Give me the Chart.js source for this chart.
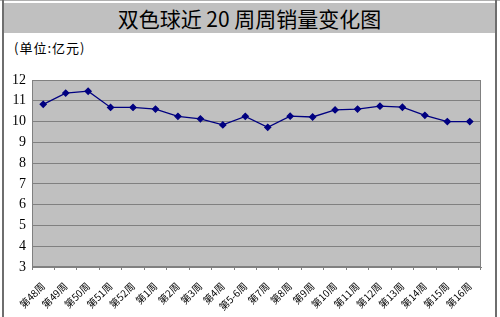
<!DOCTYPE html>
<html>
<head>
<meta charset="utf-8">
<script src="https://cdn.jsdelivr.net/npm/chart.js@4/dist/chart.umd.min.js"></script>
<style>
  body { margin: 0; background: #fff; }
  #wrap { position: relative; width: 500px; height: 317px; overflow: hidden; }
  #borderL { position: absolute; left: 2px; top: 0; width: 2px; height: 317px; background: #6e6e6e; }
  #borderR { position: absolute; left: 495px; top: 0; width: 2px; height: 317px; background: #6e6e6e; }
  #topLine { position: absolute; left: 0; top: 0; width: 500px; height: 1px; background: #b0b0b0; }
  #title {
    position: absolute; left: 4px; top: 3px; width: 491px; height: 30px;
    background: #c0c0c0; text-align: center; line-height: 30px;
    font-family: "Noto Sans CJK SC", sans-serif; font-size: 21px; color: #000;
  }
  #unit {
    position: absolute; left: 14px; top: 38px; letter-spacing: 1px;
    font-family: "Noto Sans CJK SC", sans-serif; font-size: 13px; color: #000;
  }
  #chart { position: absolute; left: 0; top: 0; }
</style>
</head>
<body>
<div id="wrap">
  <div id="topLine"></div>
  <div id="title">双色球近 20 周周销量变化图</div>
  <div id="unit">(单位:亿元)</div>
  <div id="borderL"></div>
  <div id="borderR"></div>
  <canvas id="chart" width="500" height="317"></canvas>
</div>
<script>
'use strict';

//data

var weeks = ['第48周', '第49周', '第50周', '第51周', '第52周', '第1周', '第2周', '第3周', '第4周', '第5-6周',
             '第7周', '第8周', '第9周', '第10周', '第11周', '第12周', '第13周', '第14周', '第15周', '第16周'];
var sales = [10.83, 11.37, 11.46, 10.68, 10.68, 10.6, 10.25, 10.13, 9.84, 10.25,
             9.72, 10.26, 10.22, 10.56, 10.6, 10.74, 10.69, 10.3, 10.0, 10.0];
var yTicks = [3, 4, 5, 6, 7, 8, 9, 10, 11, 12];

//colors

var lineColor = 'rgb(000,000,128)';
var plotBg = 'rgb(192,192,192)';
var gridColor = 'rgb(128,128,128)';

//plot background and frame
const plotBgPlugin = {
    id: 'plotBg',
    beforeDraw: function (chart) {
        var a = chart.chartArea;
        var ctx = chart.ctx;
        ctx.save();
        ctx.fillStyle = plotBg;
        ctx.fillRect(a.left, a.top, a.right - a.left, a.bottom - a.top);
        ctx.restore();
    },
    beforeDatasetsDraw: function (chart) {
        var a = chart.chartArea;
        var ctx = chart.ctx;
        ctx.save();
        ctx.strokeStyle = gridColor;
        ctx.lineWidth = 1;
        ctx.strokeRect(a.left + 0.5, a.top + 0.5, a.right - a.left - 1, a.bottom - a.top - 1);
        ctx.restore();
    }
};

new Chart(document.getElementById('chart'), {
    type: 'line',
    data: {
        labels: weeks,
        datasets: [{
            label: '周销量',
            data: sales,
            borderColor: lineColor,
            backgroundColor: lineColor,
            borderWidth: 1.3,
            pointStyle: 'rectRot',
            pointRadius: 3,
            tension: 0
        }]
    },
    options: {
        responsive: false,
        animation: false,
        layout: { padding: { left: 0, top: 80, right: 19, bottom: 0 } },
        plugins: {
            legend: { display: false },
            tooltip: { enabled: false }
        },
        scales: {
            x: {
                offset: true,
                grid: { drawOnChartArea: false, color: gridColor, tickLength: 3, offset: true },
                border: { color: gridColor, width: 1 },
                ticks: {
                    color: '#000',
                    maxRotation: 45,
                    minRotation: 45,
                    autoSkip: false,
                    padding: 10,
                    font: { family: 'Noto Sans CJK SC', size: 10 }
                },
                afterFit: function (scale) { scale.height = 50; }
            },
            y: {
                min: 3,
                max: 12,
                afterBuildTicks: function (scale) { scale.ticks = yTicks.map(v => ({ value: v })); },
                grid: { color: gridColor, tickLength: 0 },
                border: { color: gridColor, width: 1 },
                ticks: {
                    color: '#000',
                    padding: 6,
                    font: { family: 'Liberation Serif', size: 14 }
                },
                afterFit: function (scale) { scale.width = 32; }
            }
        }
    },
    plugins: [plotBgPlugin]
});
</script>
</body>
</html>
